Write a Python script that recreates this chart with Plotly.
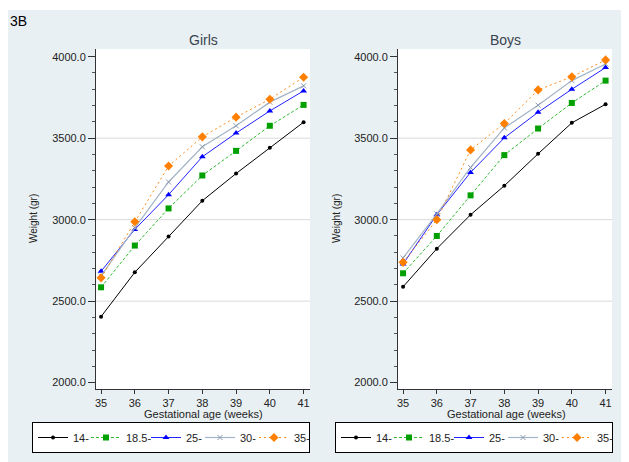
import plotly.graph_objects as go

weeks = [35, 36, 37, 38, 39, 40, 41]
groups = ["14-", "18.5-", "25-", "30-", "35-"]

girls_14 = [2405, 2677, 2896, 3116, 3283, 3441, 3598]
girls_185 = [2585, 2841, 3069, 3271, 3422, 3576, 3704]
girls_25 = [2683, 2940, 3153, 3386, 3531, 3667, 3790]
girls_30 = [2655, 2950, 3231, 3447, 3576, 3721, 3821]
girls_35 = [2643, 2987, 3329, 3508, 3629, 3739, 3874]

boys_14 = [2588, 2822, 3030, 3208, 3404, 3594, 3708]
boys_185 = [2671, 2900, 3149, 3396, 3559, 3716, 3853]
boys_25 = [2728, 3030, 3290, 3502, 3659, 3800, 3933]
boys_30 = [2765, 3035, 3320, 3563, 3702, 3853, 3955]
boys_35 = [2738, 3000, 3428, 3590, 3796, 3876, 3980]

y_ticks = [2000, 2500, 3000, 3500, 4000]
y_tick_text = ["2000.0", "2500.0", "3000.0", "3500.0", "4000.0"]
grid_values = [2500, 3000, 3500]
x_range = [34.85, 41.19]
y_range = [1961, 4047]

girls = [girls_14, girls_185, girls_25, girls_30, girls_35]
boys = [boys_14, boys_185, boys_25, boys_30, boys_35]

styles = [
    dict(line=dict(color="#000000", width=1, dash="solid"),
         marker=dict(symbol="circle", size=4, color="#000000")),
    dict(line=dict(color="#33BB33", width=1, dash="3px,2px"),
         marker=dict(symbol="square", size=6, color="#00A000")),
    dict(line=dict(color="#2222FF", width=1, dash="solid"),
         marker=dict(symbol="triangle-up", size=6, color="#0000FF")),
    dict(line=dict(color="#A4B4C6", width=1.2, dash="solid"),
         marker=dict(symbol="x-thin", size=5, color="#8A9AAE",
                     line=dict(color="#8A9AAE", width=1))),
    dict(line=dict(color="#FF8C1A", width=1, dash="2px,3px"),
         marker=dict(symbol="diamond", size=7, color="#FF8000")),
]
# per-entry legend widths (px)
entry_widths = [8, 15, 9, 9, 10]

FONT = "Liberation Sans, Arial, sans-serif"
fig = go.Figure()

for name, ys, st, ew in zip(groups, girls, styles, entry_widths):
    fig.add_trace(go.Scatter(x=weeks, y=ys, name=name, mode="lines+markers",
                             line=st["line"], marker=st["marker"], legendwidth=ew,
                             xaxis="x", yaxis="y", legend="legend"))
for name, ys, st, ew in zip(groups, boys, styles, entry_widths):
    fig.add_trace(go.Scatter(x=weeks, y=ys, name=name, mode="lines+markers",
                             line=st["line"], marker=st["marker"], legendwidth=ew,
                             xaxis="x2", yaxis="y2", legend="legend2"))

# page body has an 8px margin: figure coordinates = screen coordinates - 8
OFF = 8
SW, SH = 629, 462
W, H = SW - OFF, SH - OFF
ml, mr, mt, mb = 96 - OFF, 17, 49 - OFF, 73
pw = W - ml - mr
ph = H - mt - mb

def px_x(p):  # screen px -> paper x
    return (p - 96) / pw

def px_y(p):  # screen px -> paper y
    return (389 - p) / ph

d1 = [0, px_x(310)]
d2 = [px_x(398), 1]

xcommon = dict(range=x_range, tickvals=weeks, ticks="outside", ticklen=4,
               tickcolor="#333", showline=True, linecolor="#333", linewidth=1,
               showgrid=False, zeroline=False, tickfont=dict(size=11, color="#222"),
               mirror=False)
ycommon = dict(range=y_range, tickvals=y_ticks, ticktext=y_tick_text,
               ticks="outside", ticklen=7, tickcolor="#333", showline=True,
               linecolor="#333", linewidth=1, showgrid=False, zeroline=False,
               tickfont=dict(size=11, color="#222"),
               minor=dict(dtick=100, ticks="outside", ticklen=3, tickcolor="#555",
                          showgrid=False))

shapes = []
for g in grid_values:
    for xa, ya in (("x", "y"), ("x2", "y2")):
        shapes.append(dict(type="line", xref=xa, yref=ya, x0=x_range[0], x1=x_range[1],
                           y0=g, y1=g, line=dict(color="#DADADA", width=1), layer="below"))
# white strip at the very top
shapes.append(dict(type="rect", xref="paper", yref="paper", x0=px_x(-20), x1=px_x(SW + 20),
                   y0=px_y(10), y1=px_y(-20), fillcolor="white", line=dict(width=0),
                   layer="below"))

annotations = [
    dict(text="3B", xref="paper", yref="paper", x=px_x(8), y=px_y(11), xanchor="left",
         yanchor="top", showarrow=False, font=dict(size=14, color="#000", family=FONT)),
    dict(text="Girls", xref="paper", yref="paper", x=px_x(203), y=px_y(40),
         xanchor="center", yanchor="middle", showarrow=False,
         font=dict(size=14, color="#3A4450", family=FONT)),
    dict(text="Boys", xref="paper", yref="paper", x=px_x(505), y=px_y(40),
         xanchor="center", yanchor="middle", showarrow=False,
         font=dict(size=14, color="#3A4450", family=FONT)),
    dict(text="Weight (gr)", xref="paper", yref="paper", x=px_x(33), y=0.5,
         textangle=-90, xanchor="center", yanchor="middle", showarrow=False,
         font=dict(size=10, color="#222", family=FONT)),
    dict(text="Weight (gr)", xref="paper", yref="paper", x=px_x(336), y=0.5,
         textangle=-90, xanchor="center", yanchor="middle", showarrow=False,
         font=dict(size=10, color="#222", family=FONT)),
    dict(text="Gestational age (weeks)", xref="paper", yref="paper", x=px_x(203),
         y=px_y(406), xanchor="center", yanchor="top", showarrow=False,
         font=dict(size=11, color="#222", family=FONT)),
    dict(text="Gestational age (weeks)", xref="paper", yref="paper", x=px_x(506),
         y=px_y(406), xanchor="center", yanchor="top", showarrow=False,
         font=dict(size=11, color="#222", family=FONT)),
]

leg = dict(orientation="h", xanchor="left", yanchor="top", bgcolor="white",
           xref="container", yref="container",
           bordercolor="#000", borderwidth=1, font=dict(size=11, color="#222", family=FONT),
           itemwidth=30, tracegroupgap=0, traceorder="normal")

fig.update_layout(
    width=W, height=H,
    margin=dict(l=ml, r=mr, t=mt, b=mb, pad=0, autoexpand=False),
    paper_bgcolor="#E9F0F3", plot_bgcolor="white",
    font=dict(family=FONT),
    xaxis=dict(domain=d1, anchor="y", **xcommon),
    yaxis=dict(domain=[0, 1], anchor="x", **ycommon),
    xaxis2=dict(domain=d2, anchor="y2", **xcommon),
    yaxis2=dict(domain=[0, 1], anchor="x2", **ycommon),
    legend=dict(x=(32 - OFF) / W, y=1 - (422 - OFF) / H, **leg),
    legend2=dict(x=(335 - OFF) / W, y=1 - (422 - OFF) / H, **leg),
    shapes=shapes, annotations=annotations, showlegend=True,
)

fig.write_html("out.html")
